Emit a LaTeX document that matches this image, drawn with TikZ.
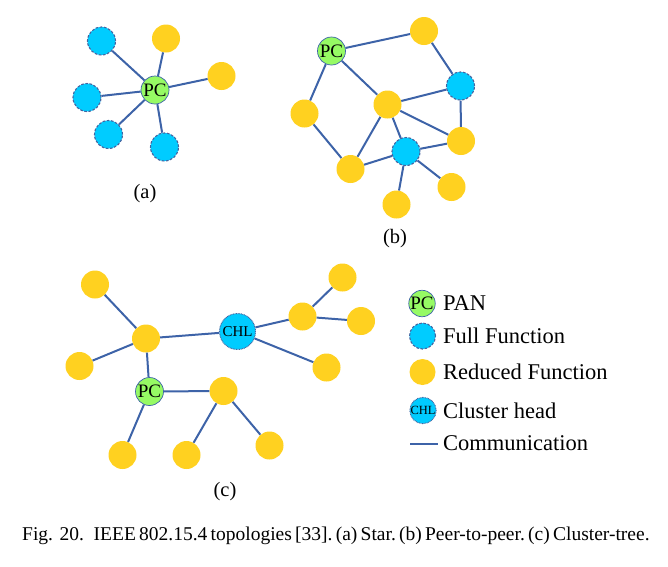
\documentclass[tikz,border=0pt]{standalone}
\usepackage{fontspec}
\setmainfont{Liberation Serif}
\usetikzlibrary{backgrounds}

\definecolor{ffdblue}{RGB}{0,204,255}
\definecolor{rfdyellow}{RGB}{255,209,32}
\definecolor{pangreen}{RGB}{150,250,100}
\definecolor{linkblue}{RGB}{61,99,168}
\definecolor{rimblue}{RGB}{70,100,160}

\tikzset{
  rfd/.style={circle,fill=rfdyellow,minimum size=28pt,inner sep=0pt},
  ffd/.style={circle,fill=ffdblue,draw=rimblue,line width=1.1pt,dash pattern=on 2.6pt off 1.6pt,minimum size=28pt,inner sep=0pt},
  pan/.style={circle,fill=pangreen,draw=linkblue,line width=0.7pt,minimum size=28pt,inner sep=0pt,font=\fontsize{19}{19}\selectfont},
  chl/.style={circle,fill=ffdblue,draw=rimblue,line width=1pt,dash pattern=on 0.8pt off 0.8pt,minimum size=36pt,inner sep=0pt,font=\fontsize{15}{15}\selectfont},
  link/.style={draw=linkblue,line width=2pt},
  sublabel/.style={font=\fontsize{20.5}{20.5}\selectfont},
  legtext/.style={anchor=west,inner sep=0pt,font=\fontsize{22.5}{22.5}\selectfont}
}

\begin{document}
\begin{tikzpicture}[x=1pt,y=-1pt]
        \useasboundingbox (0,0) rectangle (668,566);
        % (a) star
        \node[pan] (apc) at (155,90) {PC};
        \node[ffd] (af1) at (101.5,41) {};
        \node[ffd] (af2) at (87,97.5) {};
        \node[ffd] (af3) at (108.5,134.5) {};
        \node[ffd] (af4) at (164.5,147) {};
        \node[rfd] (ar1) at (166,38.5) {};
        \node[rfd] (ar2) at (221.5,76) {};
        \foreach \n in {af1,af2,af3,af4,ar1,ar2}
                \draw[link] (apc) -- (\n);
        \node[sublabel] (alab) at (145,194) {(a)};
        % (b) peer-to-peer
        \node[pan] (bpc) at (331.5,51) {PC};
        \node[rfd] (btr) at (424,31) {};
        \node[ffd] (bfr) at (460.5,86) {};
        \node[rfd] (bmid) at (387.5,104.5) {};
        \node[rfd] (blft) at (304.5,113.5) {};
        \node[rfd] (brl) at (461,141) {};
        \node[ffd] (bfl) at (406,151.5) {};
        \node[rfd] (bbl) at (350.5,169) {};
        \node[rfd] (bbr) at (451.5,187) {};
        \node[rfd] (bbot) at (396.5,204.5) {};
        \draw[link] (bpc) -- (btr);
        \draw[link] (bpc) -- (blft);
        \draw[link] (bpc) -- (bmid);
        \draw[link] (btr) -- (bfr);
        \draw[link] (bfr) -- (bmid);
        \draw[link] (bfr) -- (brl);
        \draw[link] (bmid) -- (brl);
        \draw[link] (bmid) -- (bbl);
        \draw[link] (bmid) -- (bfl);
        \draw[link] (blft) -- (bbl);
        \draw[link] (bbl) -- (bfl);
        \draw[link] (bfl) -- (brl);
        \draw[link] (bfl) -- (bbr);
        \draw[link] (bfl) -- (bbot);
        \node[sublabel] (blab) at (395,239) {(b)};
        % (c) cluster-tree
        \node[rfd] (ctl) at (95,284.5) {};
        \node[rfd] (chub) at (146,338.5) {};
        \node[rfd] (clft) at (79.5,366) {};
        \node[chl] (chead) at (237.5,331.5) {CHL};
        \node[rfd] (cmr) at (302.5,316.5) {};
        \node[rfd] (ctr) at (342.5,277.5) {};
        \node[rfd] (crt) at (361,321) {};
        \node[rfd] (clr) at (326.5,367.5) {};
        \node[pan] (cpc) at (149.5,391.5) {PC};
        \node[rfd] (cmd) at (223.5,391) {};
        \node[rfd] (cb1) at (122.5,455) {};
        \node[rfd] (cb2) at (186.5,455) {};
        \node[rfd] (cb3) at (269.5,445.5) {};
        \draw[link] (ctl) -- (chub);
        \draw[link] (clft) -- (chub);
        \draw[link] (chub) -- (chead);
        \draw[link] (chub) -- (cpc);
        \draw[link] (chead) -- (cmr);
        \draw[link] (cmr) -- (ctr);
        \draw[link] (cmr) -- (crt);
        \draw[link] (chead) -- (clr);
        \draw[link] (cpc) -- (cmd);
        \draw[link] (cpc) -- (cb1);
        \draw[link] (cmd) -- (cb2);
        \draw[link] (cmd) -- (cb3);
        \node[sublabel] (clab) at (225,492) {(c)};
        % legend
        \node[pan,minimum size=25pt] (kpan) at (422,303.5) {PC};
        \node[ffd,minimum size=26pt] (kffd) at (422.5,336) {};
        \node[rfd,minimum size=26pt] (krfd) at (422.5,372) {};
        \node[chl,minimum size=26pt,font=\fontsize{12.5}{12.5}\selectfont] (kchl) at (423,410.5) {CHL};
        \coordinate (kl1) at (410,443.5);
        \coordinate (kl2) at (437.5,443.5);
        \draw[link] (kl1) -- (kl2);
        \node[legtext] (tpan) at (443,303.5) {PAN};
        \node[legtext] (tffd) at (443,336) {Full Function};
        \node[legtext] (trfd) at (443,372) {Reduced Function};
        \node[legtext] (tchl) at (443,410.5) {Cluster head};
        \node[legtext] (tlnk) at (443,443.5) {Communication};
        % caption
        \node[anchor=base west,inner sep=0pt,font=\fontsize{19.5}{19.5}\selectfont] (cap) at (22,540)
                {Fig. 20.\ \ IEEE\,802.15.4\,topologies\,[33].\,(a)\,Star.\,(b)\,Peer-to-peer.\,(c)\,Cluster-tree.};
\end{tikzpicture}
\end{document}
